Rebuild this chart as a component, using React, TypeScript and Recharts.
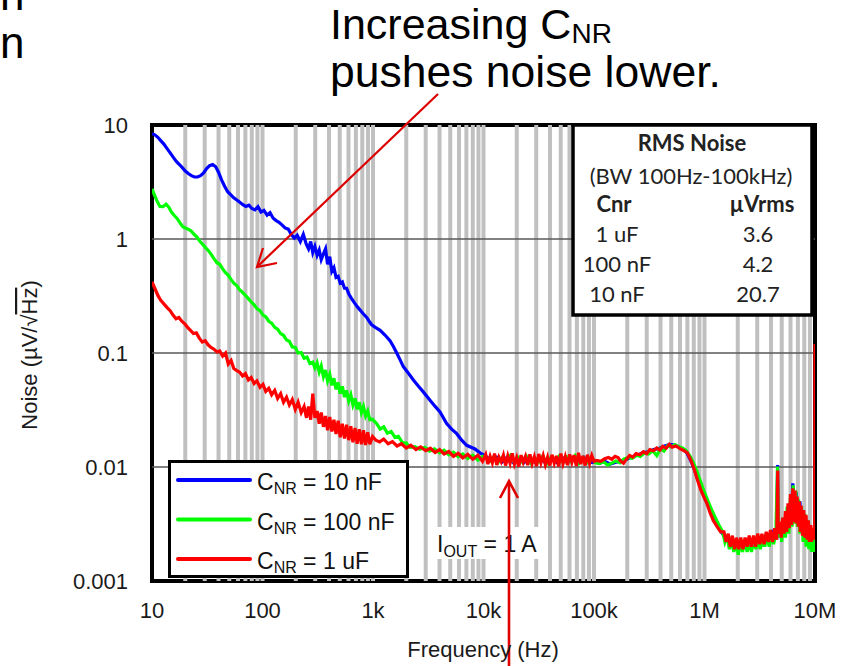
import React from "react";
import { LineChart, Line, XAxis, YAxis, CartesianGrid, Legend } from "recharts";

const FONT = '"Liberation Sans", Arial, sans-serif';
const TABLE_FONT = 'Lato, "Open Sans", sans-serif';

// axis ticks
const xTicks = [10, 100, 1000, 10000, 100000, 1000000, 10000000];
const xTickLabels = ["10", "100", "1k", "10k", "100k", "1M", "10M"];
const yTicks = [0.001, 0.01, 0.1, 1, 10];
const yTickLabels = ["0.001", "0.01", "0.1", "1", "10"];
const yGridValues = [0.01, 0.1, 1];
const gridDecades = [10, 100, 1000, 10000, 100000, 1000000];
const gridSteps = [1, 2, 3, 4, 5, 6, 7, 8, 9];

// RMS table
const rmsCaps = ["1 uF", "100 nF", "10 nF"];
const rmsValues = ["3.6", "4.2", "20.7"];

// noise density, [frequency Hz, uV/rtHz]
const blueNoise: [number, number][] = [
  [10, 8.4], [10.6, 8.2], [11.3, 7.8], [12, 7.3], [12.8, 6.8], [13.7, 6.2], [14.6, 5.7], [15.6, 5.2],
  [16.6, 4.8], [17.7, 4.5], [18.9, 4.2], [20, 3.95], [21.3, 3.75], [22.7, 3.6], [24.2, 3.5], [25.8, 3.5],
  [27.5, 3.6], [29.3, 3.8], [31.2, 4.15], [33.2, 4.4], [35.4, 4.5], [37.7, 4.3], [40, 3.85], [42.6, 3.3],
  [45.4, 2.9], [48.4, 2.6], [51.5, 2.45], [54.9, 2.3], [58.5, 2.2], [62.3, 2.1], [66.4, 2.0], [70.7, 1.93],
  [75.3, 1.98], [80.2, 1.85], [85.4, 1.8], [91, 1.92], [97, 1.72], [103, 1.78], [110, 1.62], [117, 1.7],
  [125, 1.52], [133, 1.45], [141, 1.4], [150, 1.33], [160, 1.25], [171, 1.22], [182, 1.1], [194, 1.02],
  [206, 1.08], [220, 0.95], [234, 1.1], [249, 0.9], [261, 0.82], [273, 0.95], [285, 0.76], [298, 0.86],
  [312, 0.72], [326, 0.8], [340, 0.66], [356, 0.74], [372, 0.82], [388, 0.6], [406, 0.7], [424, 0.52],
  [443, 0.56], [463, 0.46], [484, 0.47], [505, 0.41], [528, 0.42], [552, 0.37], [577, 0.37], [603, 0.33],
  [640, 0.3], [680, 0.275], [720, 0.255],
  [762, 0.239], [820, 0.22], [877, 0.205], [930, 0.188], [973, 0.177], [1050, 0.168], [1160, 0.158],
  [1290, 0.143], [1425, 0.128], [1530, 0.114], [1640, 0.1], [1760, 0.087], [1880, 0.076], [2100, 0.066],
  [2320, 0.058], [2580, 0.051], [2850, 0.0456], [3280, 0.0385], [3650, 0.034], [4040, 0.0304],
  [4640, 0.024], [5150, 0.0215], [5720, 0.0196], [6350, 0.0172], [7040, 0.0155], [8370, 0.0144],
  [9290, 0.0133], [10000, 0.0128],
  [10500, 0.0124], [11800, 0.0114], [13200, 0.0122], [14800, 0.0111], [16500, 0.0123], [18500, 0.011],
  [20700, 0.012], [23200, 0.0109], [26000, 0.0122], [29100, 0.0111], [32600, 0.0121], [36500, 0.0108],
  [40900, 0.012], [45800, 0.011], [51300, 0.0122], [57500, 0.0109], [64400, 0.0121], [72100, 0.011],
  [80800, 0.0122], [90500, 0.0109], [101000, 0.0111], [113000, 0.0108], [126000, 0.0112], [141000, 0.0106],
  [158000, 0.011], [177000, 0.0113], [198000, 0.0117], [222000, 0.0123], [248000, 0.0127], [278000, 0.0134],
  [311000, 0.0136], [348000, 0.0142], [390000, 0.0146], [436000, 0.0153], [488000, 0.0158], [546000, 0.0155],
  [611000, 0.0147], [684000, 0.0136], [740000, 0.0117], [800000, 0.0098], [860000, 0.008], [925000, 0.0066],
  [1000000, 0.0054], [1080000, 0.0046], [1170000, 0.0038], [1270000, 0.0032], [1380000, 0.0028],
  [1500000, 0.0025], [1650000, 0.0023], [1820000, 0.0021], [2000000, 0.0022], [2200000, 0.002],
  [2450000, 0.0022], [2700000, 0.002], [3000000, 0.0023], [3300000, 0.0021], [3600000, 0.0025],
  [3900000, 0.0022], [4200000, 0.0027], [4500000, 0.0025], [4590000, 0.0104], [4670000, 0.0027],
  [4950000, 0.0024], [5250000, 0.0032], [5550000, 0.0027], [5850000, 0.0047], [6100000, 0.0033],
  [6300000, 0.0072], [6500000, 0.0044], [6750000, 0.006], [7000000, 0.0035], [7300000, 0.005],
  [7600000, 0.0027], [7900000, 0.0039], [8200000, 0.0023], [8500000, 0.0033], [8800000, 0.0022],
  [9100000, 0.0029], [9400000, 0.0021], [9700000, 0.0025], [9950000, 0.0018],
];

const greenNoise: [number, number][] = [
  [10, 2.75], [10.5, 2.45], [11.1, 2.15], [11.8, 1.93], [12.6, 1.92], [13.4, 2.02], [14.2, 1.9], [15, 1.72],
  [16, 1.6], [17, 1.5], [18, 1.38], [19, 1.28], [20, 1.25], [21.2, 1.22], [22.5, 1.18], [24, 1.1],
  [25.5, 1.04], [27, 0.96], [28.7, 0.9], [30.5, 0.84], [32.4, 0.79], [34.4, 0.73], [36.5, 0.67], [38.7, 0.62],
  [41, 0.6], [43.5, 0.55], [46, 0.51], [49, 0.48], [52, 0.44], [55, 0.41], [58.5, 0.39], [62, 0.36],
  [66, 0.34], [70, 0.32], [74.5, 0.3], [79, 0.28], [84, 0.265], [89, 0.245], [95, 0.235], [101, 0.215],
  [107, 0.208], [114, 0.19], [121, 0.183], [129, 0.168], [137, 0.162], [146, 0.148], [155, 0.143], [165, 0.13],
  [175, 0.127], [186, 0.113], [198, 0.112], [210, 0.1], [224, 0.101], [238, 0.09], [253, 0.092], [268, 0.081],
  [285, 0.083], [298, 0.074], [312, 0.082], [326, 0.068], [340, 0.077], [356, 0.062], [372, 0.071],
  [388, 0.057], [406, 0.065], [424, 0.052], [443, 0.06], [463, 0.048], [484, 0.055], [505, 0.044],
  [528, 0.051], [552, 0.041], [577, 0.047], [603, 0.038], [630, 0.043], [658, 0.035], [688, 0.04],
  [719, 0.032], [751, 0.037], [785, 0.03], [820, 0.034], [857, 0.028], [896, 0.031], [936, 0.026],
  [990, 0.0262], [1080, 0.024],
  [1160, 0.0215], [1250, 0.0225], [1350, 0.0198], [1460, 0.0205], [1580, 0.0182], [1700, 0.0186],
  [1840, 0.0164], [2000, 0.0162], [2160, 0.0149], [2400, 0.0151], [2650, 0.0143], [2950, 0.0149],
  [3250, 0.0138], [3600, 0.0144], [4000, 0.0133], [4400, 0.014], [4850, 0.0128], [5350, 0.0135],
  [5900, 0.0123], [6500, 0.013], [7200, 0.0119], [8000, 0.0127], [8900, 0.0115], [9800, 0.0124],
  [10500, 0.0121], [11500, 0.0113], [12500, 0.0124], [13600, 0.011], [14800, 0.0122], [16100, 0.0112],
  [17500, 0.0126], [19000, 0.0109], [20700, 0.0121], [22500, 0.011], [24500, 0.0124], [26700, 0.0108],
  [29000, 0.012], [31600, 0.0111], [34400, 0.0125], [37400, 0.0107], [40700, 0.0121], [44300, 0.0112],
  [48200, 0.0124], [52400, 0.0109], [57000, 0.0122], [62000, 0.0111], [67500, 0.0126], [73400, 0.0108],
  [80000, 0.0121], [87000, 0.011], [94600, 0.0123], [103000, 0.0109], [112000, 0.0107], [122000, 0.0111],
  [133000, 0.0104], [145000, 0.0108], [158000, 0.0113], [172000, 0.0109], [187000, 0.0118], [204000, 0.0121],
  [222000, 0.0119], [242000, 0.0127], [263000, 0.0124], [287000, 0.0133], [312000, 0.013], [340000, 0.0139],
  [370000, 0.0126], [400000, 0.0145], [430000, 0.0138], [460000, 0.0153], [500000, 0.015], [540000, 0.0157],
  [580000, 0.0151], [630000, 0.0147], [680000, 0.014], [730000, 0.0127], [790000, 0.011], [850000, 0.0093],
  [910000, 0.0077], [980000, 0.0063], [1060000, 0.0052], [1150000, 0.0043], [1250000, 0.0036],
  [1350000, 0.0031], [1460000, 0.0027], [1530000, 0.0022], [1600000, 0.0025], [1680000, 0.0019],
  [1760000, 0.0023], [1840000, 0.0018], [1930000, 0.0022], [2020000, 0.0017], [2110000, 0.0022],
  [2210000, 0.0018], [2320000, 0.0023], [2430000, 0.0018], [2540000, 0.0022], [2660000, 0.0018],
  [2790000, 0.0023], [2920000, 0.0019], [3060000, 0.0024], [3200000, 0.0019], [3350000, 0.0024],
  [3510000, 0.002], [3680000, 0.0025], [3850000, 0.002], [4030000, 0.0026], [4220000, 0.0021],
  [4420000, 0.0026], [4580000, 0.0101], [4680000, 0.0024], [4850000, 0.0031], [5000000, 0.0022],
  [5200000, 0.0036], [5400000, 0.0024], [5600000, 0.0045], [5800000, 0.0026], [6000000, 0.0055],
  [6200000, 0.003], [6350000, 0.0069], [6500000, 0.0032], [6700000, 0.0062], [6900000, 0.003],
  [7100000, 0.0052], [7300000, 0.0026], [7550000, 0.0045], [7800000, 0.0022], [8050000, 0.0039],
  [8300000, 0.002], [8550000, 0.0034], [8800000, 0.0019], [9050000, 0.003], [9300000, 0.0018],
  [9550000, 0.0027], [9800000, 0.0018], [9950000, 0.002],
];

const redNoise: [number, number][] = [
  [10, 0.42], [10.6, 0.37], [11.3, 0.32], [12, 0.29], [12.8, 0.27], [13.7, 0.25], [14.6, 0.235], [15.5, 0.215],
  [16.5, 0.2], [17.5, 0.205], [18.6, 0.19], [19.8, 0.18], [21, 0.168], [22.3, 0.158], [23.7, 0.148],
  [25.2, 0.15], [26.8, 0.135], [28.5, 0.125], [30.3, 0.128], [32.2, 0.118], [34.2, 0.112], [36.4, 0.108],
  [38.7, 0.102], [41, 0.104], [43.6, 0.094], [46.3, 0.1], [49, 0.08], [52, 0.086], [55, 0.073], [58.5, 0.07],
  [62, 0.068], [66, 0.063], [70, 0.066], [74.5, 0.058], [79, 0.061], [84, 0.054], [89, 0.057], [95, 0.05],
  [101, 0.053], [107, 0.046], [114, 0.049], [121, 0.043], [129, 0.047], [137, 0.04], [146, 0.044],
  [155, 0.037], [165, 0.041], [175, 0.035], [186, 0.039], [198, 0.032], [210, 0.037], [224, 0.03],
  [238, 0.034], [250, 0.027], [261, 0.034], [273, 0.026], [285, 0.044], [298, 0.027], [312, 0.031],
  [326, 0.024], [340, 0.03], [356, 0.0225], [372, 0.028], [388, 0.021], [406, 0.0275], [424, 0.0205],
  [443, 0.026], [463, 0.0195], [484, 0.0255], [505, 0.0182], [528, 0.024], [552, 0.0178], [577, 0.0235],
  [603, 0.0172], [630, 0.0228], [658, 0.0165], [688, 0.022], [719, 0.016], [751, 0.0215], [785, 0.0158],
  [820, 0.021], [857, 0.0156], [896, 0.0202], [936, 0.0158], [990, 0.0185], [1060, 0.0172],
  [1150, 0.0166], [1250, 0.0176], [1370, 0.016], [1500, 0.0167], [1650, 0.0153], [1810, 0.016],
  [2000, 0.0147], [2200, 0.0155], [2450, 0.0142], [2700, 0.015], [3000, 0.0139], [3300, 0.0146],
  [3650, 0.0134], [4000, 0.0142], [4400, 0.013], [4850, 0.0137], [5350, 0.0124], [5900, 0.0132],
  [6500, 0.012], [7200, 0.0129], [8000, 0.0117], [8900, 0.0127], [9800, 0.0112],
  [10470, 0.0129], [10960, 0.0106], [11480, 0.0124], [12020, 0.0109], [12590, 0.0131], [13180, 0.0104],
  [13800, 0.0122], [14450, 0.0111], [15140, 0.0127], [15850, 0.0103], [16600, 0.0125], [17380, 0.0108],
  [18200, 0.0132], [19050, 0.0106], [19950, 0.0121], [20890, 0.0101], [21880, 0.0127], [22910, 0.011],
  [23990, 0.0124], [25120, 0.0104], [26300, 0.0129], [27540, 0.0107], [28840, 0.0123], [30200, 0.0102],
  [31620, 0.013], [33110, 0.0109], [34670, 0.0126], [36310, 0.0105], [38020, 0.0122], [39810, 0.0103],
  [41690, 0.0128], [43650, 0.0108], [45710, 0.0125], [47860, 0.0101], [50120, 0.0131], [52480, 0.0107],
  [54950, 0.0124], [57540, 0.0104], [60260, 0.0129], [63100, 0.011], [66070, 0.0127], [69180, 0.0102],
  [72440, 0.0133], [75860, 0.0106], [79430, 0.0125], [83180, 0.0103], [87100, 0.0128], [91200, 0.0108],
  [95500, 0.0126], [100000, 0.0112],
  [105000, 0.0114], [115000, 0.0112], [125000, 0.0118], [135000, 0.0121], [145000, 0.0117],
  [155000, 0.0124], [165000, 0.0121], [175000, 0.0112], [185000, 0.0108], [195000, 0.0116],
  [210000, 0.0126], [225000, 0.0122], [240000, 0.0131], [260000, 0.0128], [280000, 0.0136],
  [300000, 0.0131], [320000, 0.0142], [345000, 0.0139], [370000, 0.0147], [395000, 0.0141],
  [420000, 0.0152], [450000, 0.0146], [480000, 0.0158], [510000, 0.0149], [550000, 0.0153],
  [600000, 0.0145], [650000, 0.0139], [700000, 0.0133], [760000, 0.0112], [800000, 0.0098],
  [860000, 0.0078], [920000, 0.0064], [1000000, 0.0053], [1050000, 0.0048], [1120000, 0.004],
  [1200000, 0.0034], [1300000, 0.003], [1400000, 0.0027],
  [1500000, 0.0027], [1570000, 0.0022], [1640000, 0.0026], [1710000, 0.002], [1790000, 0.0025],
  [1870000, 0.0019], [1950000, 0.0024], [2040000, 0.0019], [2130000, 0.0024], [2230000, 0.0019],
  [2330000, 0.0024], [2430000, 0.002], [2540000, 0.0025], [2660000, 0.002], [2780000, 0.0025],
  [2900000, 0.002], [3030000, 0.0026], [3170000, 0.0021], [3310000, 0.0026], [3460000, 0.0021],
  [3620000, 0.0027], [3780000, 0.0022], [3950000, 0.0028], [4130000, 0.0022], [4320000, 0.0029],
  [4500000, 0.0023], [4600000, 0.0093], [4650000, 0.0026], [4800000, 0.0033], [4950000, 0.0024],
  [5100000, 0.0036], [5250000, 0.0026], [5400000, 0.0041], [5550000, 0.0027], [5700000, 0.0048],
  [5850000, 0.0029], [6000000, 0.0058], [6150000, 0.0031], [6300000, 0.0065], [6450000, 0.0033],
  [6600000, 0.0062], [6750000, 0.0032], [6900000, 0.0055], [7050000, 0.003], [7200000, 0.005],
  [7350000, 0.0027], [7500000, 0.0046], [7700000, 0.0025], [7900000, 0.0042], [8100000, 0.0024],
  [8300000, 0.0038], [8500000, 0.0023], [8700000, 0.0034], [8900000, 0.0022], [9100000, 0.0031],
  [9300000, 0.0022], [9500000, 0.0029], [9700000, 0.0023], [9850000, 0.0031], [9950000, 0.003],
  [10000000, 0.12],
];

const series = [
  { key: "c10n", label: "10 nF", color: "#0000ff", data: blueNoise },
  { key: "c100n", label: "100 nF", color: "#00ff00", data: greenNoise },
  { key: "c1u", label: "1 uF", color: "#ff0000", data: redNoise },
];

const toRows = (pts: [number, number][]) => pts.map(([f, v]) => ({ f, v }));

const xGridValues = gridDecades
  .flatMap((d) => gridSteps.map((s) => d * s))
  .filter((f) => f > 10);

function NoiseLegend() {
  return (
    <div
      style={{
        width: 241,
        height: 118,
        boxSizing: "border-box",
        border: "3px solid #000",
        background: "#fff",
      }}
    >
      <svg width={235} height={112} style={{ display: "block" }}>
        {series.map((s, i) => {
          const y = 17 + i * 39.5;
          return (
            <g key={s.key}>
              <line x1={7} x2={79} y1={y} y2={y} stroke={s.color} strokeWidth={4} strokeLinecap="round" />
              <text x={86} y={y + 10} fontFamily={FONT} fontSize={23} fill="#111">
                C
                <tspan fontSize={16} dy={4}>NR</tspan>
                <tspan dy={-4}>{" = " + s.label}</tspan>
              </text>
            </g>
          );
        })}
      </svg>
    </div>
  );
}

export default function App() {
  return (
    <div style={{ position: "relative", width: 852, height: 666, background: "#fff" }}>
      <style>{"body{margin:0}"}</style>

      {/* plot frame, under the curves */}
      <svg width={852} height={666} style={{ position: "absolute", left: 0, top: 0 }}>
        <rect x={152} y={125} width={663} height={456} fill="none" stroke="#000" strokeWidth={4} />
      </svg>

      <div style={{ position: "absolute", left: 0, top: 0 }}>
        <LineChart width={852} height={666} margin={{ top: 125, right: 37, bottom: 0, left: 0 }}>
          <CartesianGrid horizontal={false} verticalValues={xGridValues} stroke="#c0c0c0" strokeWidth={4} />
          <CartesianGrid vertical={false} horizontalValues={yGridValues} stroke="#595959" strokeWidth={1.5} />
          <XAxis
            dataKey="f"
            type="number"
            scale="log"
            domain={[10, 10000000]}
            allowDataOverflow
            ticks={xTicks}
            interval={0}
            tickFormatter={(v) => xTickLabels[xTicks.indexOf(v)] ?? ""}
            height={85}
            axisLine={false}
            tickLine={false}
            tickSize={0}
            tickMargin={21}
            tick={{ fontFamily: FONT, fontSize: 22, fill: "#1a1a1a" }}
          />
          <YAxis
            dataKey="v"
            type="number"
            scale="log"
            domain={[0.001, 10]}
            allowDataOverflow
            ticks={yTicks}
            interval={0}
            tickFormatter={(v) => yTickLabels[yTicks.indexOf(v)] ?? ""}
            width={152}
            axisLine={false}
            tickLine={false}
            tickSize={0}
            tickMargin={24}
            tick={{ fontFamily: FONT, fontSize: 22, fill: "#1a1a1a" }}
          />
          {series.map((s) => (
            <Line
              key={s.key}
              data={toRows(s.data)}
              dataKey="v"
              name={s.label}
              type="linear"
              stroke={s.color}
              strokeWidth={3.2}
              dot={false}
              activeDot={false}
              isAnimationActive={false}
            />
          ))}
          <Legend
            layout="horizontal"
            verticalAlign="middle"
            align="center"
            content={() => <NoiseLegend />}
            wrapperStyle={{ left: 168, top: 460, width: 241, height: 118, margin: 0, padding: 0 }}
          />
        </LineChart>
      </div>

      {/* annotations */}
      <svg
        width={852}
        height={666}
        style={{ position: "absolute", left: 0, top: 0, pointerEvents: "none" }}
        fontFamily={FONT}
      >
        <text x={0} y={10} fontSize={44} fill="#000">n</text>
        <text x={0} y={58} fontSize={44} fill="#000">n</text>

        <text x={330} y={39} fontSize={43} fill="#000">
          Increasing C<tspan fontSize={28} dy={4}>NR</tspan>
        </text>
        <text x={330} y={87} fontSize={44.5} fill="#000">pushes noise lower.</text>

        {/* RMS noise table */}
        <rect x={573} y={125} width={239} height={190} fill="#fff" stroke="#000" strokeWidth={3.5} />
        <g fontFamily={TABLE_FONT} fontSize={22} fill="#222" textAnchor="middle">
          <text x={692} y={151} fontWeight="bold">RMS Noise</text>
          <text x={691} y={184}>(BW 100Hz-100kHz)</text>
          <text x={614} y={212} fontWeight="bold">Cnr</text>
          <text x={762} y={212} fontWeight="bold">µVrms</text>
          {rmsCaps.map((c, i) => (
            <g key={c}>
              <text x={617} y={242 + i * 30}>{c}</text>
              <text x={758} y={242 + i * 30}>{rmsValues[i]}</text>
            </g>
          ))}
        </g>

        {/* load current label */}
        <rect x={435} y={527} width={113} height={32} fill="#fff" />
        <text x={437} y={552} fontSize={23} fill="#111">
          I<tspan fontSize={16} dy={5}>OUT</tspan>
          <tspan dy={-5}> = 1 A</tspan>
        </text>

        {/* arrows */}
        <g stroke="#dd0000" fill="none" strokeWidth={2.2}>
          <line x1={438} y1={94} x2={258} y2={266} />
          <polyline points="263,248 257,267 277,263" />
        </g>
        <g stroke="#e00000" fill="none" strokeWidth={2.6}>
          <line x1={509} y1={666} x2={509} y2={482} />
          <polyline points="500,498 509,481 518,498" />
        </g>

        {/* axis titles */}
        <text x={483} y={657} fontSize={22} fill="#1a1a1a" textAnchor="middle">Frequency (Hz)</text>
        <text
          x={37}
          y={355}
          fontSize={22}
          fill="#1a1a1a"
          textAnchor="middle"
          transform="rotate(-90 37 355)"
        >
          Noise (µV/√<tspan textDecoration="overline">Hz</tspan>)
        </text>
      </svg>
    </div>
  );
}
